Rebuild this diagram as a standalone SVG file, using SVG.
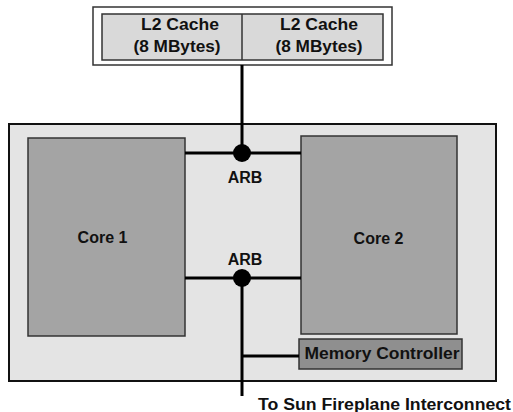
<svg xmlns="http://www.w3.org/2000/svg" width="513" height="412" viewBox="0 0 513 412">
<style>
text{font-family:"Liberation Sans",Arial,sans-serif;font-weight:bold;font-size:16px;fill:#111;}
.core{fill:#a4a4a4;stroke:#333;stroke-width:1.5;}
.wire{stroke:#000;stroke-width:3;fill:none;}
.dot{fill:#000;}
</style>
<rect width="513" height="412" fill="#fff"/>
<g id="l2">
<rect x="93" y="7" width="299" height="58" fill="#fff" stroke="#333" stroke-width="1.5"/>
<rect x="102" y="14" width="281" height="46" fill="#d9d9d9" stroke="#333" stroke-width="1.5"/>
<line x1="242" y1="14" x2="242" y2="60" stroke="#333" stroke-width="1.5"/>
<text x="180" y="30" text-anchor="middle" textLength="78" lengthAdjust="spacingAndGlyphs">L2 Cache</text>
<text x="177" y="52" text-anchor="middle" textLength="87" lengthAdjust="spacingAndGlyphs">(8 MBytes)</text>
<text x="319" y="30" text-anchor="middle" textLength="78" lengthAdjust="spacingAndGlyphs">L2 Cache</text>
<text x="319" y="52" text-anchor="middle" textLength="87" lengthAdjust="spacingAndGlyphs">(8 MBytes)</text>
</g>
<g id="chip">
<rect x="9" y="124" width="487" height="257" fill="#e4e4e4" stroke="#111" stroke-width="2"/>
</g>
<g id="core1">
<rect class="core" x="28" y="138" width="157" height="198"/>
<text x="102.5" y="243" text-anchor="middle">Core 1</text>
</g>
<g id="core2">
<rect class="core" x="301" y="136" width="156" height="198"/>
<text x="378.5" y="244" text-anchor="middle">Core 2</text>
</g>
<g id="memctrl">
<rect x="299" y="339" width="163" height="30" fill="#8f8f8f" stroke="#333" stroke-width="1.5"/>
<text x="382" y="359" text-anchor="middle" textLength="155" lengthAdjust="spacingAndGlyphs">Memory Controller</text>
</g>
<g id="connectors">
<line class="wire" x1="242" y1="65" x2="242" y2="153"/>
<line class="wire" x1="185" y1="153" x2="301" y2="153"/>
<line class="wire" x1="185" y1="278" x2="301" y2="278"/>
<line class="wire" x1="242" y1="278" x2="242" y2="396"/>
<line class="wire" x1="242" y1="356" x2="299" y2="356"/>
</g>
<g id="arb1">
<circle class="dot" cx="242" cy="153" r="9"/>
<text x="245" y="183" text-anchor="middle">ARB</text>
</g>
<g id="arb2">
<circle class="dot" cx="242" cy="278" r="9"/>
<text x="245" y="265" text-anchor="middle">ARB</text>
</g>
<text x="258" y="410" textLength="253" lengthAdjust="spacingAndGlyphs">To Sun Fireplane Interconnect</text>
</svg>
